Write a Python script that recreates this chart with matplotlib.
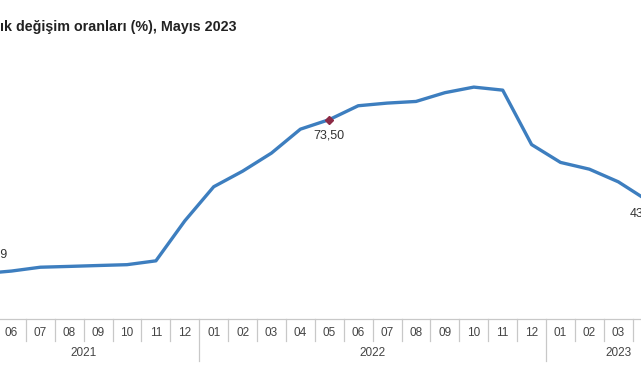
import matplotlib
matplotlib.use("Agg")
import matplotlib.pyplot as plt
import matplotlib.transforms as mtransforms

# Data: annual CPI change (%), 05/2021 .. 05/2023
months = ["05", "06", "07", "08", "09", "10", "11", "12",
          "01", "02", "03", "04", "05", "06", "07", "08", "09", "10", "11", "12",
          "01", "02", "03", "04", "05"]
years = ["2021"] * 8 + ["2022"] * 12 + ["2023"] * 5
values = [16.59, 17.53, 18.95, 19.25, 19.58, 19.89, 21.31, 36.08,
          48.69, 54.44, 61.14, 69.97, 73.50, 78.62, 79.60, 80.21, 83.45, 85.51, 84.39, 64.27,
          57.68, 55.18, 50.51, 43.68, 39.59]
labelled = {0: "16,59", 12: "73,50", 23: "43,68"}
title = "ık değişim oranları (%), Mayıs 2023"

W, H = 641, 380
fig = plt.figure(figsize=(W / 100, H / 100), dpi=100)
fig.patch.set_facecolor("white")

# pixel mapping
a, b = -17.5, 28.9          # x pixel of index 0, px per month
y0_px, top_px = 318.5, 40   # pixel row of value 0 and axes top
ppu = 2.706                 # px per percentage point
xl = ((0 - a) / b, (W - a) / b)
ax = fig.add_axes([0, (H - y0_px) / H, 1, (y0_px - top_px) / H])
ax.set_xlim(*xl)
ax.set_ylim(0, (y0_px - top_px) / ppu)
ax.axis("off")

x = list(range(len(values)))
ax.plot(x, values, color="#3d7ebf", lw=2.4, solid_joinstyle="round", zorder=3)
ax.plot([12], [values[12]], marker="D", ms=4, color="#8c2a45", zorder=4, ls="none")

for i, txt in labelled.items():
    if i == 0:
        ax.annotate(txt, (i, values[i]), xytext=(18, 14), textcoords="offset points",
                    ha="right", va="center", fontsize=9, color="#333333",
                    family="Liberation Sans", annotation_clip=False)
    elif i == 23:
        ax.annotate(txt, (i, values[i]), xytext=(-12.5, -9.5), textcoords="offset points",
                    ha="left", va="center", fontsize=9, color="#333333",
                    family="Liberation Sans", annotation_clip=False)
    else:
        ax.annotate(txt, (i, values[i]), xytext=(0, -11.5), textcoords="offset points",
                    ha="center", va="center", fontsize=9, color="#333333",
                    family="Liberation Sans", annotation_clip=False)

# axis ribbon drawn in pixel coordinates (x data, y figure fraction)
tr = mtransforms.blended_transform_factory(ax.transData, fig.transFigure)
def fy(px):
    return 1 - px / H

def px_of(i):
    return a + b * i

sep_col = "#c8c8c8"
ax.plot(xl, [fy(319)] * 2, transform=tr, color=sep_col, lw=0.9, clip_on=False)
n = len(months)
for i in range(n):
    if px_of(i) - 7 < 0 or px_of(i) + 7 > W:
        continue  # label lies outside the cropped view
    ax.text(i, fy(333), months[i], transform=tr, ha="center", va="center",
            fontsize=8.5, color="#444444", family="Liberation Sans")
for i in range(n + 1):
    xb = i - 0.5
    is_year = (i < n and i > 0 and years[i] != years[i - 1])
    bottom = 361 if is_year else 341
    ax.plot([xb, xb], [fy(319), fy(bottom)], transform=tr, color=sep_col,
            lw=0.9, clip_on=False)

for yr in ["2021", "2022", "2023"]:
    idx = [i for i, y in enumerate(years) if y == yr]
    cx = (idx[0] + idx[-1]) / 2
    ax.text(cx, fy(353), yr, transform=tr, ha="center", va="center",
            fontsize=8.5, color="#444444", family="Liberation Sans")

fig.text(0 / W, fy(27), title, ha="left", va="center", fontsize=10.3,
         fontweight="bold", color="#222222", family="Liberation Sans")

fig.savefig("out.png", dpi=100)
